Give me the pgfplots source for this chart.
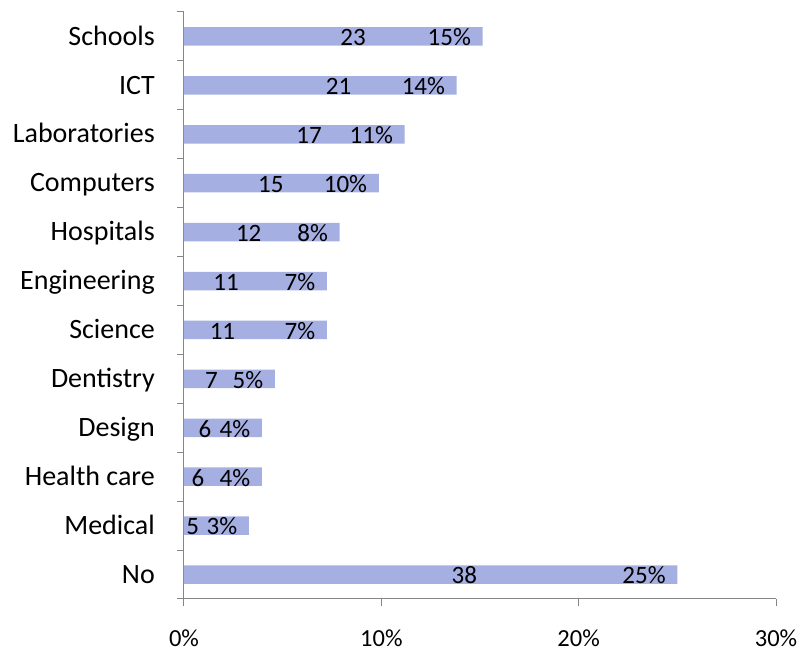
\documentclass[border=0pt]{standalone}
\usepackage{pgfplots}
\pgfplotsset{compat=1.18}
\usepackage{pgfplotstable}
\usepackage{fontspec}
\setmainfont{Carlito}
\definecolor{barcol}{RGB}{165,175,225}
\definecolor{axcol}{RGB}{134,134,134}

% y: 0 = No (bottom) ... 11 = Schools (top); pct = bar length, n = count, nx = where the count sits
\pgfplotstableread{
y  pct    rp  n   nx
0  25.00  25  38  14.21
1  3.29   3   5   0.44
2  3.95   4   6   0.71
3  3.95   4   6   1.06
4  4.61   5   7   1.39
5  7.24   7   11  1.95
6  7.24   7   11  2.13
7  7.89   8   12  3.28
8  9.87   10  15  4.40
9  11.18  11  17  6.34
10 13.82  14  21  7.83
11 15.13  15  23  8.57
}\datatable

\begin{document}
\begin{tikzpicture}[x=1pt,y=1pt]
\useasboundingbox (0,0) rectangle (801,651);
\begin{axis}[
    at={(184pt,52pt)}, anchor=south west,
    scale only axis, width=592pt, height=587pt,
    xmin=0, xmax=30, ymin=-0.5, ymax=11.5,
    axis lines*=left,
    axis line style={axcol, line width=1pt},
    tick align=outside,
    major tick length=7pt, minor tick length=7pt,
    every tick/.style={axcol, line width=1pt},
    xtick={0,10,20,30},
    xticklabel={\pgfmathprintnumber{\tick}\%},
    /pgf/number format/assume math mode=true,
    x tick label style={font=\fontsize{24.5}{29}\selectfont, anchor=base, yshift=-40pt},
    ytick={0,...,11},
    yticklabels={No,Medical,Health care,Design,Dentistry,Science,Engineering,Hospitals,Computers,Laboratories,ICT,Schools},
    major y tick style={draw=none},
    minor ytick={-0.5,0.5,...,11.5},
    y tick label style={font=\fontsize{28}{33}\selectfont, anchor=base east, inner sep=0pt, xshift=-22pt, yshift=-8.7pt},
    clip=false,
]
\addplot[xbar, bar width=18.5pt, fill=barcol, draw=none,
    nodes near coords={\pgfplotspointmeta\%}, point meta=explicit symbolic,
    every node near coord/.style={font=\fontsize{25}{30}\selectfont, anchor=base east, inner sep=0pt, xshift=-11.5pt, yshift=-9.3pt}]
    table[x=pct, y=y, meta=rp] {\datatable};
\addplot[only marks, mark=none, draw=none, forget plot,
    nodes near coords, point meta=explicit symbolic,
    every node near coord/.style={font=\fontsize{25}{30}\selectfont, anchor=base, inner sep=0pt, yshift=-9.3pt}]
    table[x=nx, y=y, meta=n] {\datatable};
\end{axis}
\end{tikzpicture}
\end{document}
